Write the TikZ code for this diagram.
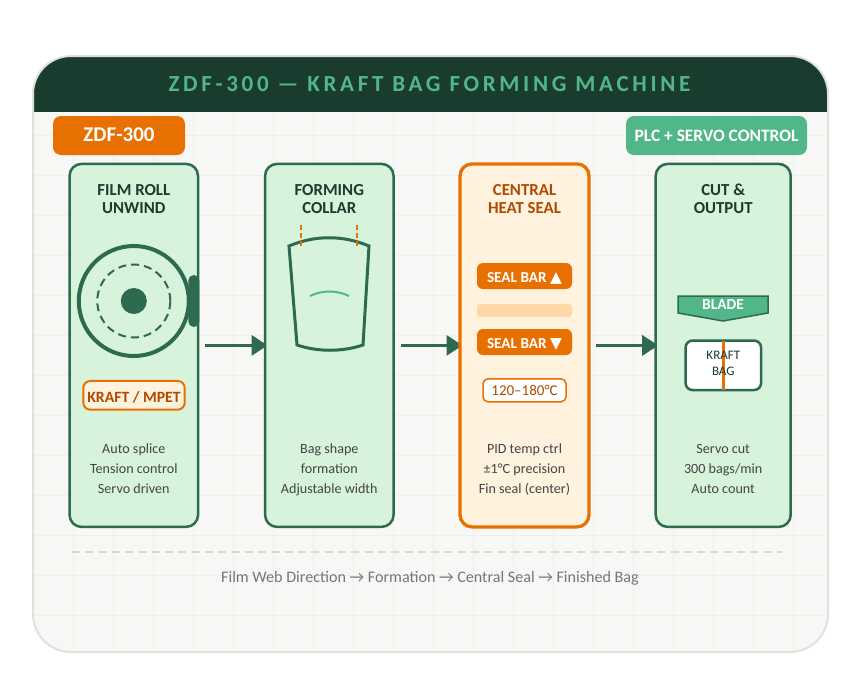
\documentclass[tikz,border=0pt]{standalone}
\usepackage{fontspec}
\setmainfont{Carlito}
\newfontfamily\titlefont[LetterSpace=16]{Carlito}
\usetikzlibrary{arrows.meta,shapes.geometric}
\definecolor{dkgreen}{HTML}{1A3C2E}
\definecolor{midgreen}{HTML}{2D6A4F}
\definecolor{ltgreen}{HTML}{52B788}
\definecolor{palegreen}{HTML}{D8F3DC}
\definecolor{orng}{HTML}{E87000}
\definecolor{brn}{HTML}{B04A00}
\definecolor{cream}{HTML}{FFF3E0}
\definecolor{peach}{HTML}{FFD6A5}
\definecolor{panelbg}{HTML}{F7F7F5}
\definecolor{panelln}{HTML}{E0E0DC}
\definecolor{gridln}{HTML}{EFEFEC}
\definecolor{body}{HTML}{444444}
\definecolor{footgrey}{HTML}{73777C}
\definecolor{dashgreen}{HTML}{D0DDD3}
\newcommand{\capln}[2][0pt]{\vphantom{H}\smash{\raisebox{-#1}{#2}}}
\tikzset{
  x=1pt,y=-1pt,
  box/.style={rectangle,inner sep=0pt,outer sep=0pt,align=center},
  card/.style={box,draw=midgreen,line width=2.5pt,fill=palegreen,rounded corners=12pt,minimum width=#1,minimum height=363pt},
  hot/.style={box,draw=orng,line width=3.3pt,fill=cream,rounded corners=12pt,minimum width=#1,minimum height=363pt},
  heading/.style={box,font=\fontsize{16.8}{18}\selectfont\bfseries,text=dkgreen},
  notes/.style={box,font=\fontsize{14.1}{20}\selectfont,text=body},
  badge/.style={box,rounded corners=8pt,minimum height=39pt,text=white,font=\bfseries},
  sealbar/.style={box,fill=orng,rounded corners=6pt,minimum width=95pt,minimum height=26pt,text=white,font=\fontsize{15.2}{15.2}\selectfont\bfseries},
  flow/.style={midgreen,line width=3.3pt,-{Triangle[length=16pt,width=20pt]}},
}
\begin{document}
\begin{tikzpicture}
\useasboundingbox (0,0) rectangle (858,675);
\fill[white] (0,0) rectangle (858,675);
\begin{scope}
\path[clip] (33,56) [rounded corners=38pt] -- (828,56) -- (828,652) -- (33,652) -- cycle;
\fill[panelbg] (33,56) rectangle (828,652);
\foreach \gx in {73,113,...,828} \draw[gridln,line width=1pt] (\gx,112) -- (\gx,652);
\foreach \gy in {135,175,...,652} \draw[gridln,line width=1pt] (33,\gy) -- (828,\gy);
\fill[dkgreen] (33,56) rectangle (828,112);
\end{scope}
\draw[panelln,line width=2pt,rounded corners=38pt] (33,56) -- (828,56) -- (828,652) -- (33,652) -- cycle;
\node[box,text=ltgreen,font=\fontsize{23}{23}\selectfont\bfseries\titlefont] (title) at (429.5,84.2) {\capln{ZDF-300 — KRAFT BAG FORMING MACHINE}};

\node[badge,fill=orng,minimum width=132pt,font=\fontsize{21}{21}\selectfont\bfseries] (model) at (119,135.5) {\capln[-0.5pt]{ZDF-300}};
\node[badge,fill=ltgreen,minimum width=181pt,font=\fontsize{17.4}{17.4}\selectfont\bfseries] (plc) at (716.5,135.5) {\capln[0.7pt]{PLC + SERVO CONTROL}};

% card geometry first (arrows run beneath the card fills)
\path (133.8,345.4) node[box,minimum width=128.5pt,minimum height=363pt] (c1) {}
      (329.3,345.4) node[box,minimum width=128.5pt,minimum height=363pt] (c2) {}
      (524.5,345.4) node[box,minimum width=129pt,minimum height=363pt] (c3) {}
      (723.2,345.4) node[box,minimum width=135pt,minimum height=363pt] (c4) {};
\draw[flow] ([xshift=7pt]c1.east) -- ([xshift=2.5pt]c2.west);
\draw[flow] ([xshift=7pt]c2.east) -- ([xshift=2.5pt]c3.west);
\draw[flow] ([xshift=7pt]c3.east) -- ([xshift=2.5pt]c4.west);

\node[card=128.5pt] (k1) at (c1) {};
\node[card=128.5pt] (k2) at (c2) {};
\node[hot=129pt] (k3) at (c3) {};
\node[card=135pt] (k4) at (c4) {};

\node[heading] (h1) at (133.8,198.7) {FILM ROLL\\UNWIND};
\node[heading] (h2) at (329.3,198.7) {FORMING\\COLLAR};
\node[heading,text=brn] (h3) at (524.5,198.7) {CENTRAL\\HEAT SEAL};
\node[heading] (h4) at (723.2,198.7) {CUT \&\\OUTPUT};

% film roll
\node[circle,draw=midgreen,line width=4pt,minimum size=110pt,inner sep=0pt] (roll) at (133.8,301) {};
\node[circle,draw=midgreen,line width=2pt,dash pattern=on 8pt off 5pt,minimum size=73pt,inner sep=0pt] (rollin) at (133.8,301) {};
\node[circle,fill=midgreen,minimum size=26pt,inner sep=0pt] (hub) at (133.8,301) {};
\node[box,fill=midgreen,rounded corners=5.5pt,minimum width=11pt,minimum height=52pt] (tab) at (193.8,301) {};
\node[box,draw=orng,line width=2pt,fill=cream,rounded corners=7pt,minimum width=101.4pt,minimum height=28.7pt,text=brn,font=\fontsize{15.7}{15.7}\selectfont\bfseries] (mat) at (134,395.3) {\capln[1.7pt]{KRAFT / MPET}};

% collar
\draw[midgreen,line width=3pt,line join=miter] (289,246) .. controls (315,235) and (343,235) .. (369,246) -- (363,345) .. controls (342,352) and (318,352) .. (297,345) -- cycle;
\draw[orng,line width=2.8pt,dash pattern=on 5pt off 3pt] (301,225) -- (301,247);
\draw[orng,line width=2.8pt,dash pattern=on 5pt off 3pt] (357,225) -- (357,247);
\draw[ltgreen,line width=2pt] (310,296) .. controls (322,290) and (337,290) .. (349,296);

% seal
\node[sealbar] (s1) at (524.5,276) {\capln[2pt]{SEAL BAR {\fontspec{DejaVu Sans}\fontsize{15.5}{15.5}\selectfont ▲}}};
\node[box,fill=peach,rounded corners=3pt,minimum width=95pt,minimum height=13pt] (gap) at (524.5,310.5) {};
\node[sealbar] (s2) at (524.5,342) {\capln[2pt]{SEAL BAR {\fontspec{DejaVu Sans}\fontsize{15.5}{15.5}\selectfont ▼}}};
\node[box,draw=orng,line width=1.5pt,fill=white,rounded corners=5pt,minimum width=83pt,minimum height=23pt,text=brn,font=\fontsize{15}{15}\selectfont] (temp) at (524.5,390.3) {\capln{120–180°C}};

% cut
\draw[midgreen,line width=1.5pt,fill=ltgreen] (678,296) -- (768,296) -- (768,313) -- (723,321) -- (678,313) -- cycle;
\node[box,text=white,font=\fontsize{15.4}{15.4}\selectfont\bfseries] (blade) at (723,304.3) {\capln{BLADE}};
\node[box,draw=midgreen,line width=2.5pt,fill=white,rounded corners=7pt,minimum width=75.5pt,minimum height=49.5pt] (bag) at (723.3,365.3) {};
\draw[orng,line width=2.6pt] (bag.north) -- (bag.south);
\node[box,text=dkgreen,font=\fontsize{13}{16}\selectfont] (bagt) at (723.3,363) {KRAFT\\BAG};

% notes
\node[notes] (n1) at (133.8,469.5) {\strut Auto splice\\Tension control\\Servo driven\strut};
\node[notes] (n2) at (329.3,469.5) {\strut Bag shape\\formation\\Adjustable width\strut};
\node[notes] (n3) at (524.5,469.5) {\strut PID temp ctrl\\±1°C precision\\Fin seal (center)\strut};
\node[notes] (n4) at (723.2,469.5) {\strut Servo cut\\300 bags/min\\Auto count\strut};

% footer
\coordinate (dl) at (72,552);
\coordinate (dr) at (782,552);
\draw[dashgreen,line width=1.5pt,dash pattern=on 8pt off 5.3pt] (dl) -- (dr);
\node[box,text=footgrey,font=\fontsize{16.1}{16.1}\selectfont] (foot) at (430,579) {\strut Film Web Direction → Formation → Central Seal → Finished Bag};
\end{tikzpicture}
\end{document}
